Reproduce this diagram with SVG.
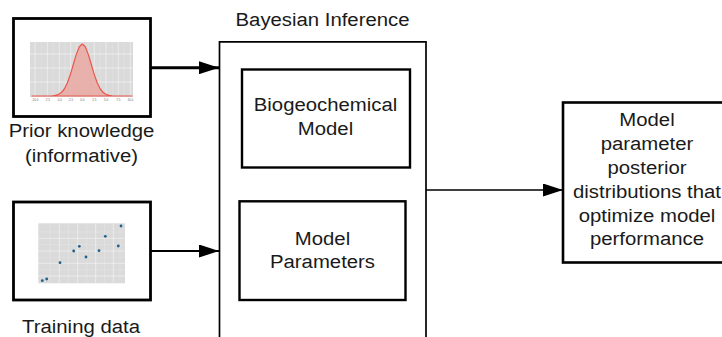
<svg xmlns="http://www.w3.org/2000/svg" width="722" height="337" viewBox="0 0 722 337">
<style>
.t{font-family:"Liberation Sans",Arial,sans-serif;font-size:18px;fill:#1a1a1a;text-anchor:middle}
.box{fill:#fff;stroke:#000}
.conn{stroke:#000;fill:none}
.grid{stroke:#fff;stroke-width:0.6;opacity:0.8}
.minor{stroke:#fff;stroke-width:0.3;opacity:0.6}
.tick{font-family:"Liberation Sans",Arial,sans-serif;font-size:3px;fill:#666;text-anchor:middle}
.pt{fill:#1f5f8c}
</style>
<defs>
<marker id="ah" markerUnits="userSpaceOnUse" viewBox="0 0 20 13" refX="20" refY="6.5" markerWidth="20" markerHeight="13" orient="auto">
<path d="M0,0 L20,6.5 L0,13 z" fill="#000"/>
</marker>
</defs>

<g id="connectors">
<line class="conn" x1="151" y1="67.7" x2="219" y2="67.7" stroke-width="3" marker-end="url(#ah)"/>
<line class="conn" x1="151" y1="251" x2="219" y2="251" stroke-width="2" marker-end="url(#ah)"/>
<line class="conn" x1="426" y1="190" x2="563" y2="190" stroke-width="1.7" marker-end="url(#ah)"/>
</g>

<g id="prior">
<rect class="box" x="13.5" y="18.5" width="137" height="98" stroke-width="2.8"/>
<rect x="30" y="42" width="103" height="55" fill="#dadada"/>
<g class="minor">
<line x1="41.2" y1="42" x2="41.2" y2="97"/><line x1="53.3" y1="42" x2="53.3" y2="97"/><line x1="65" y1="42" x2="65" y2="97"/><line x1="76.5" y1="42" x2="76.5" y2="97"/><line x1="88.3" y1="42" x2="88.3" y2="97"/><line x1="100.2" y1="42" x2="100.2" y2="97"/><line x1="112.2" y1="42" x2="112.2" y2="97"/><line x1="124.3" y1="42" x2="124.3" y2="97"/>
</g>
<g class="grid">
<line x1="35" y1="42" x2="35" y2="97"/><line x1="47.3" y1="42" x2="47.3" y2="97"/><line x1="59.3" y1="42" x2="59.3" y2="97"/><line x1="70.7" y1="42" x2="70.7" y2="97"/><line x1="82.3" y1="42" x2="82.3" y2="97"/><line x1="94.3" y1="42" x2="94.3" y2="97"/><line x1="106" y1="42" x2="106" y2="97"/><line x1="118.3" y1="42" x2="118.3" y2="97"/><line x1="130.3" y1="42" x2="130.3" y2="97"/>
<line x1="30" y1="54" x2="133" y2="54"/><line x1="30" y1="68" x2="133" y2="68"/><line x1="30" y1="82" x2="133" y2="82"/>
</g>
<path d="M32,96 L52.3,95.8 L55.3,95.4 L58.3,94.5 L61.3,92.6 L64.3,89 L67.3,83 L70.3,74.6 L73.3,64.5 L76.3,54.4 L79.3,46.8 L82.3,44 L85.3,46.8 L88.3,54.4 L91.3,64.5 L94.3,74.6 L97.3,83 L100.3,89 L103.3,92.6 L106.3,94.5 L109.3,95.4 L112.3,95.8 L132,96 Z" fill="#e9a8a2" fill-opacity="0.85" stroke="#e8584c" stroke-width="1.2" stroke-linejoin="round"/>
<text class="tick" x="35" y="101">-10.0</text><text class="tick" x="47.3" y="101">-7.5</text><text class="tick" x="59.3" y="101">-5.0</text><text class="tick" x="70.7" y="101">-2.5</text><text class="tick" x="82.3" y="101">0.0</text><text class="tick" x="94.3" y="101">2.5</text><text class="tick" x="106" y="101">5.0</text><text class="tick" x="118.3" y="101">7.5</text><text class="tick" x="130.3" y="101">10.0</text>
<text class="t" transform="matrix(1.13 0 0 1 81.5 0)" x="0" y="137.5">Prior knowledge</text>
<text class="t" transform="matrix(1.13 0 0 1 81.5 0)" x="0" y="162">(informative)</text>
</g>

<g id="training">
<rect class="box" x="13.5" y="202" width="137" height="98" stroke-width="2.8"/>
<rect x="38.3" y="223.3" width="86.7" height="60" fill="#dadada"/>
<g class="minor">
<line x1="50" y1="223.3" x2="50" y2="283.3"/><line x1="68.5" y1="223.3" x2="68.5" y2="283.3"/><line x1="86.7" y1="223.3" x2="86.7" y2="283.3"/><line x1="104.5" y1="223.3" x2="104.5" y2="283.3"/><line x1="120" y1="223.3" x2="120" y2="283.3"/>
<line x1="38.3" y1="232" x2="125" y2="232"/><line x1="38.3" y1="244.7" x2="125" y2="244.7"/><line x1="38.3" y1="257.2" x2="125" y2="257.2"/><line x1="38.3" y1="270" x2="125" y2="270"/>
</g>
<g class="grid">
<line x1="59.3" y1="223.3" x2="59.3" y2="283.3"/><line x1="77.7" y1="223.3" x2="77.7" y2="283.3"/><line x1="95.7" y1="223.3" x2="95.7" y2="283.3"/><line x1="113.3" y1="223.3" x2="113.3" y2="283.3"/>
<line x1="38.3" y1="238.3" x2="125" y2="238.3"/><line x1="38.3" y1="251" x2="125" y2="251"/><line x1="38.3" y1="263.3" x2="125" y2="263.3"/><line x1="38.3" y1="276" x2="125" y2="276"/>
</g>
<circle class="pt" cx="42.3" cy="280.7" r="1.4"/>
<circle class="pt" cx="46.7" cy="279" r="1.4"/>
<circle class="pt" cx="60" cy="262.7" r="1.4"/>
<circle class="pt" cx="73.7" cy="251" r="1.4"/>
<circle class="pt" cx="79.3" cy="246.3" r="1.4"/>
<circle class="pt" cx="86" cy="257" r="1.4"/>
<circle class="pt" cx="99" cy="250.7" r="1.4"/>
<circle class="pt" cx="105.3" cy="236.3" r="1.4"/>
<circle class="pt" cx="118.3" cy="246" r="1.4"/>
<circle class="pt" cx="121" cy="226" r="1.4"/>
<text class="t" transform="matrix(1.13 0 0 1 81 0)" x="0" y="333">Training data</text>
</g>

<g id="bayesian">
<path d="M219.5,345 V41.8 H426 V345" fill="none" stroke="#000" stroke-width="1.7"/>
<text class="t" transform="matrix(1.13 0 0 1 322.5 0)" x="0" y="26">Bayesian Inference</text>
</g>

<g id="biogeochemical">
<rect class="box" x="242" y="69.5" width="168" height="98" stroke-width="2.4"/>
<text class="t" transform="matrix(1.13 0 0 1 325.5 0)" x="0" y="111">Biogeochemical</text>
<text class="t" transform="matrix(1.13 0 0 1 325.5 0)" x="0" y="135">Model</text>
</g>

<g id="parameters">
<rect class="box" x="239.5" y="201.3" width="166" height="98.7" stroke-width="2.4"/>
<text class="t" transform="matrix(1.13 0 0 1 322.5 0)" x="0" y="245">Model</text>
<text class="t" transform="matrix(1.13 0 0 1 322.5 0)" x="0" y="268.5">Parameters</text>
</g>

<g id="posterior">
<rect class="box" x="563" y="102.5" width="170" height="160" stroke-width="2.6"/>
<text class="t" transform="matrix(1.13 0 0 1 647 0)" x="0" y="125.7">Model</text>
<text class="t" transform="matrix(1.13 0 0 1 647 0)" x="0" y="150">parameter</text>
<text class="t" transform="matrix(1.13 0 0 1 647 0)" x="0" y="174">posterior</text>
<text class="t" transform="matrix(1.13 0 0 1 647 0)" x="0" y="197.7">distributions that</text>
<text class="t" transform="matrix(1.13 0 0 1 647 0)" x="0" y="221.7">optimize model</text>
<text class="t" transform="matrix(1.13 0 0 1 647 0)" x="0" y="245.3">performance</text>
</g>
</svg>
